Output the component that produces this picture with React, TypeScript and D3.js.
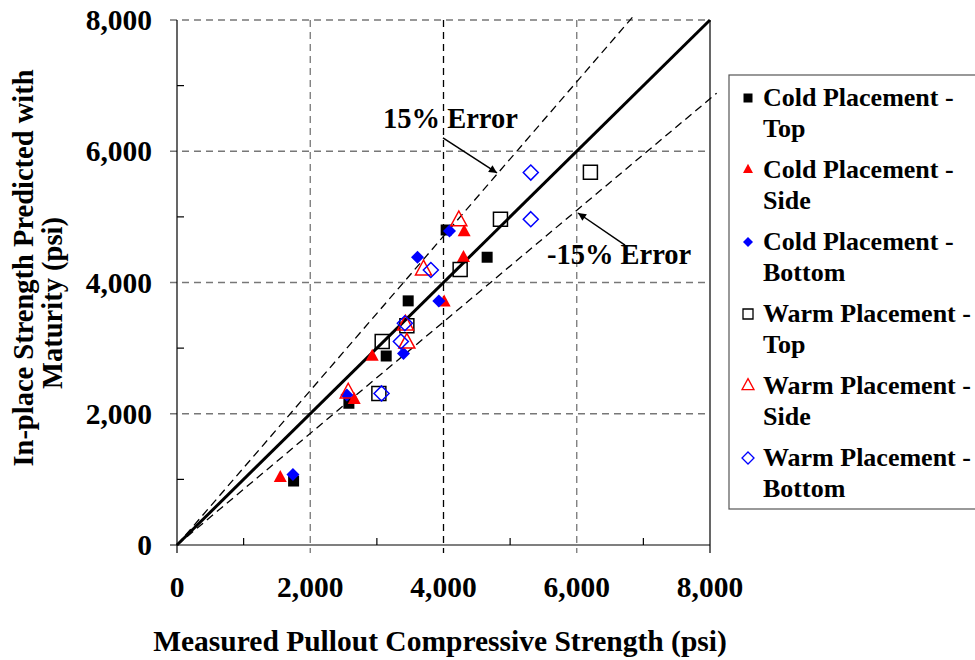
import React from "react";
import * as d3 from "d3";

// ---- data (psi) ----
const coldTop = [
  { x: 1750, y: 975 }, { x: 2580, y: 2160 }, { x: 3140, y: 2880 },
  { x: 3470, y: 3720 }, { x: 4040, y: 4800 }, { x: 4655, y: 4385 },
];
const coldSide = [
  { x: 1550, y: 1020 }, { x: 2660, y: 2210 }, { x: 2930, y: 2870 },
  { x: 4010, y: 3695 }, { x: 4300, y: 4375 }, { x: 4310, y: 4765 },
];
const coldBottom = [
  { x: 1740, y: 1075 }, { x: 2550, y: 2285 }, { x: 3400, y: 2920 },
  { x: 3930, y: 3720 }, { x: 3610, y: 4385 }, { x: 4090, y: 4785 },
];
const warmTop = [
  { x: 3030, y: 2310 }, { x: 3080, y: 3100 }, { x: 3450, y: 3340 },
  { x: 4250, y: 4200 }, { x: 4855, y: 4965 }, { x: 6205, y: 5680 },
];
const warmSide = [
  { x: 2570, y: 2315 }, { x: 3450, y: 3075 }, { x: 3430, y: 3350 },
  { x: 3700, y: 4190 }, { x: 4230, y: 4940 },
];
const warmBottom = [
  { x: 3070, y: 2310 }, { x: 3360, y: 3100 }, { x: 3420, y: 3380 },
  { x: 3810, y: 4190 }, { x: 5310, y: 4965 }, { x: 5310, y: 5675 },
];

const seriesNames = [
  ["Cold Placement -", "Top"],
  ["Cold Placement -", "Side"],
  ["Cold Placement -", "Bottom"],
  ["Warm Placement -", "Top"],
  ["Warm Placement -", "Side"],
  ["Warm Placement -", "Bottom"],
];

const majorTicks = [0, 2000, 4000, 6000, 8000];
const minorTicks = [1000, 3000, 5000, 7000];

// error bands: y = slope * x
const errorLines = [
  { slope: 1 / 0.85, xEnd: 6880 },
  { slope: 0.85, xEnd: 8100 },
];

const annotations = [
  { text: "15% Error", tx: 3092, ty: 6354, from: [3992, 6202], to: [4803, 5669] },
  { text: "-15% Error", tx: 5553, ty: 4282, from: [6724, 4571], to: [6019, 5059] },
];

const W = 975;
const H = 660;
const FONT = "'Liberation Serif', 'Times New Roman', serif";

type Shape = "square" | "triangle" | "diamond";

function markerPath(shape: Shape, cx: number, cy: number, s: number): string {
  const p = d3.path();
  if (shape === "square") {
    p.rect(cx - s / 2, cy - s / 2, s, s);
  } else if (shape === "triangle") {
    const h = s * 0.92;
    p.moveTo(cx, cy - (2 * h) / 3);
    p.lineTo(cx + s / 2, cy + h / 3);
    p.lineTo(cx - s / 2, cy + h / 3);
    p.closePath();
  } else {
    const r = s / 2;
    p.moveTo(cx, cy - r);
    p.lineTo(cx + r, cy);
    p.lineTo(cx, cy + r);
    p.lineTo(cx - r, cy);
    p.closePath();
  }
  return p.toString();
}

const seriesData = [coldTop, coldSide, coldBottom, warmTop, warmSide, warmBottom];
const seriesStyle: { shape: Shape; fill: string; stroke: string; size: number; legendSize: number }[] = [
  { shape: "square", fill: "#000", stroke: "none", size: 11, legendSize: 9 },
  { shape: "triangle", fill: "#ff0000", stroke: "none", size: 13, legendSize: 10 },
  { shape: "diamond", fill: "#0000ff", stroke: "none", size: 13, legendSize: 10 },
  { shape: "square", fill: "none", stroke: "#000", size: 14, legendSize: 10 },
  { shape: "triangle", fill: "none", stroke: "#ff0000", size: 16, legendSize: 12 },
  { shape: "diamond", fill: "none", stroke: "#0000ff", size: 15, legendSize: 12 },
];

export default function App() {
  const x = d3.scaleLinear().domain([0, 8000]).range([177, 710]);
  const y = d3.scaleLinear().domain([0, 8000]).range([545, 20]);
  const fmt = d3.format(",");

  return (
    <svg
      width={W}
      height={H}
      style={{ position: "absolute", left: 0, top: 0, background: "#fff" }}
      fontFamily={FONT}
      fontWeight="bold"
    >
      <defs>
        <marker id="arrow" viewBox="0 0 10 10" refX="10" refY="5" markerWidth="10" markerHeight="8" orient="auto" markerUnits="userSpaceOnUse">
          <path d="M0,0 L10,5 L0,10 z" fill="#000" />
        </marker>
      </defs>
      <rect width={W} height={H} fill="#fff" />

      {/* horizontal gridlines */}
      {majorTicks.slice(1).map((t) => (
        <line key={"hg" + t} x1={170} x2={x(8000)} y1={y(t)} y2={y(t)} stroke="#777" strokeWidth={1.3} strokeDasharray="7,5" />
      ))}
      {/* vertical gridlines */}
      {majorTicks.slice(1, 4).map((t) => (
        <line key={"vg" + t} x1={x(t)} x2={x(t)} y1={y(8000)} y2={553} stroke={t === 4000 ? "#000" : "#777"} strokeWidth={1.3} strokeDasharray="7,5" />
      ))}
      {/* right border */}
      <line x1={x(8000)} x2={x(8000)} y1={y(8000)} y2={553} stroke="#000" strokeWidth={1.2} />

      {/* axes */}
      <line x1={x(0)} x2={x(0)} y1={y(8000)} y2={553} stroke="#000" strokeWidth={1.2} />
      <line x1={170} x2={x(8000)} y1={y(0)} y2={y(0)} stroke="#000" strokeWidth={1.2} />
      {minorTicks.map((t) => (
        <g key={"mt" + t}>
          <line x1={x(t)} x2={x(t)} y1={y(0)} y2={y(0) - 7} stroke="#000" strokeWidth={1.2} />
          <line x1={x(0)} x2={x(0) + 7} y1={y(t)} y2={y(t)} stroke="#000" strokeWidth={1.2} />
        </g>
      ))}

      {/* error lines */}
      {errorLines.map((l, i) => (
        <line key={"el" + i} x1={x(0)} y1={y(0)} x2={x(l.xEnd)} y2={y(l.xEnd * l.slope)} stroke="#000" strokeWidth={1.3} strokeDasharray="8,5" />
      ))}
      {/* 1:1 line */}
      <line x1={x(0)} y1={y(0)} x2={x(8000)} y2={y(8000)} stroke="#000" strokeWidth={3} />

      {/* points */}
      {seriesData.map((data, si) => {
        const st = seriesStyle[si];
        return (
          <g key={"s" + si}>
            {data.map((d, i) => (
              <path
                key={i}
                d={markerPath(st.shape, x(d.x), y(d.y), st.size)}
                fill={st.fill}
                stroke={st.stroke}
                strokeWidth={st.stroke === "none" ? 0 : 1.5}
              />
            ))}
          </g>
        );
      })}

      {/* annotations */}
      {annotations.map((a, i) => (
        <g key={"an" + i}>
          <text x={x(a.tx)} y={y(a.ty)} fontSize={28.5} fill="#000">{a.text}</text>
          <line x1={x(a.from[0])} y1={y(a.from[1])} x2={x(a.to[0])} y2={y(a.to[1])} stroke="#000" strokeWidth={1.5} markerEnd="url(#arrow)" />
        </g>
      ))}

      {/* tick labels */}
      {majorTicks.map((t) => (
        <text key={"xl" + t} x={x(t)} y={597} textAnchor="middle" fontSize={29.5} fill="#000">{fmt(t)}</text>
      ))}
      {majorTicks.map((t) => (
        <text key={"yl" + t} x={152} y={y(t) + 10} textAnchor="end" fontSize={29.5} fill="#000">{fmt(t)}</text>
      ))}

      {/* axis titles */}
      <text x={440} y={651} textAnchor="middle" fontSize={29.5} fill="#000">Measured Pullout Compressive Strength (psi)</text>
      <text transform="translate(33,268) rotate(-90)" textAnchor="middle" fontSize={28.5} fill="#000">In-place Strength Predicted with</text>
      <text transform="translate(62,303) rotate(-90)" textAnchor="middle" fontSize={28.5} fill="#000">Maturity (psi)</text>

      {/* legend */}
      <rect x={729} y={75} width={260} height={434} fill="#fff" stroke="#555" strokeWidth={1.2} />
      {seriesNames.map((nm, i) => {
        const st = seriesStyle[i];
        const base = 106 + i * 72;
        return (
          <g key={"lg" + i}>
            <path d={markerPath(st.shape, 748, base - 8, st.legendSize)} fill={st.fill} stroke={st.stroke} strokeWidth={st.stroke === "none" ? 0 : 1.3} />
            <text x={763} y={base} fontSize={26} fill="#000">{nm[0]}</text>
            <text x={763} y={base + 31} fontSize={26} fill="#000">{nm[1]}</text>
          </g>
        );
      })}
    </svg>
  );
}
